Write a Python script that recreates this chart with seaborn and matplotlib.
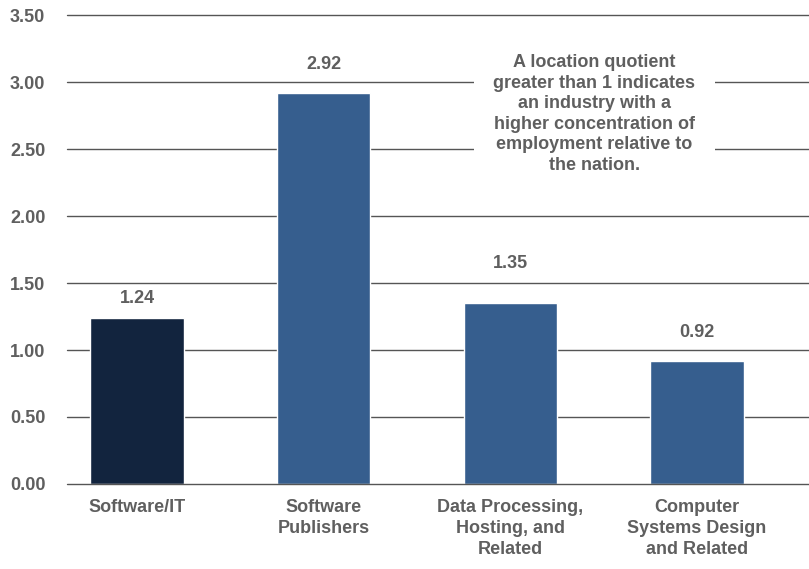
import matplotlib
matplotlib.use("Agg")
import matplotlib.pyplot as plt
import seaborn as sns
import pandas as pd

categories = ["Software/IT", "Software\nPublishers", "Data Processing,\nHosting, and\nRelated", "Computer\nSystems Design\nand Related"]
values = [1.24, 2.92, 1.35, 0.92]
bar_colors = ["#12243e", "#365e8e", "#365e8e", "#365e8e"]
yticks = [0.0, 0.5, 1.0, 1.5, 2.0, 2.5, 3.0, 3.5]
note = "A location quotient\ngreater than 1 indicates\nan industry with a\nhigher concentration of\nemployment relative to\nthe nation."
# vertical gap (in axis units) between bar top and centre of its value label
label_gaps = [0.146, 0.213, 0.299, 0.213]

sns.set_theme(style="white")
plt.rcParams['font.family'] = ['Liberation Sans', 'DejaVu Sans']
TXT = "#5f5f5f"
FS = 13

df = pd.DataFrame({"cat": categories, "val": values})

fig = plt.figure(figsize=(8.09, 5.69), dpi=100)
ax = fig.add_axes([0.0828, 0.1494, 0.9172, 0.8242])

sns.barplot(data=df, x="cat", y="val", hue="cat", palette=bar_colors,
            width=0.5, legend=False, ax=ax, saturation=1, zorder=3)

ax.set_ylim(0, 3.5)
ax.set_xlim(-0.375, 3.6)
ax.set_yticks(yticks)
ax.set_yticklabels([f"{t:.2f}" for t in yticks], fontsize=FS, fontweight="bold", color=TXT)
ax.set_xticks(range(len(categories)))
ax.set_xticklabels(categories, fontsize=FS, fontweight="bold", color=TXT, linespacing=1.3)
ax.tick_params(axis="x", length=0, pad=11)
for lbl in ax.get_yticklabels():
    lbl.set_horizontalalignment("left")
ax.tick_params(axis="y", length=0, pad=41)

for t in yticks:
    ax.axhline(t, color="#555555", lw=1.0, zorder=1 if t > 0 else 4, clip_on=False)

for s in ax.spines.values():
    s.set_visible(False)
ax.set_xlabel("")
ax.set_ylabel("")

for i, (v, g) in enumerate(zip(values, label_gaps)):
    ax.text(i, v + g, f"{v:.2f}", ha="center", va="center", fontsize=FS,
            fontweight="bold", color=TXT, zorder=4)

ax.text(2.45, 2.76, note, ha="center", va="center", fontsize=FS, fontweight="bold",
        color=TXT, linespacing=1.27, zorder=5,
        bbox=dict(facecolor="white", edgecolor="none", pad=14))

fig.savefig("out.png", dpi=100)
